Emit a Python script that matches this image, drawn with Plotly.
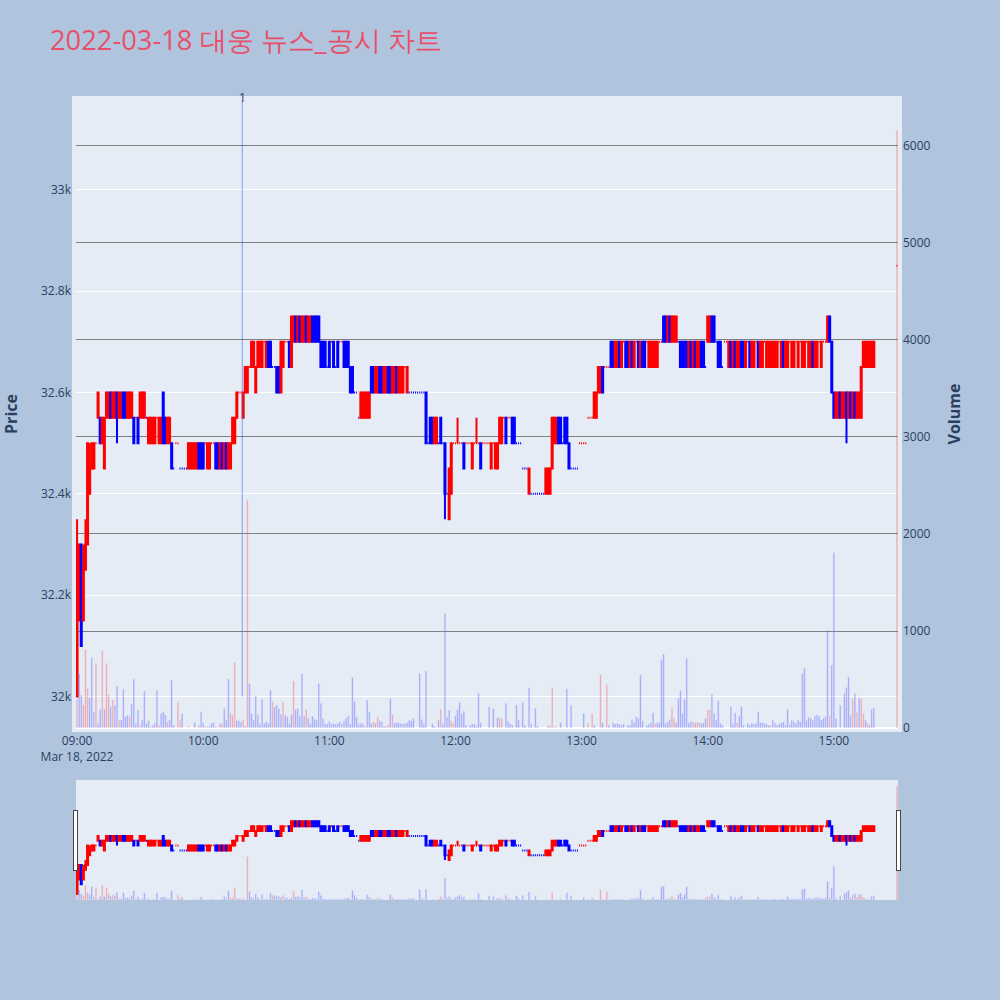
import pandas as pd
import plotly.graph_objects as go
from plotly.subplots import make_subplots

# ---- data (1-minute candles, 2022-03-18) ----
trade_date = "2022-03-18"
minute_offsets = list(range(380)) + [390]   # minutes after 09:00

opens = [
    32000,32150,32300,32150,32250,32300,32400,32450,32450,32500,
    32550,32550,32500,32450,32550,32550,32600,32550,32550,32600,
    32550,32550,32600,32600,32550,32550,32550,32550,32550,32550,
    32550,32550,32550,32550,32500,32500,32500,32500,32550,32500,
    32500,32600,32550,32500,32500,32500,32450,32500,32500,32450,
    32450,32450,32450,32450,32450,32450,32450,32450,32500,32500,
    32500,32500,32450,32450,32500,32500,32500,32500,32450,32500,
    32450,32500,32450,32450,32500,32500,32550,32600,32600,32550,
    32600,32600,32650,32650,32650,32600,32650,32650,32650,32700,
    32650,32700,32700,32650,32650,32650,32650,32600,32650,32700,
    32700,32700,32650,32700,32750,32700,32750,32700,32700,32750,
    32700,32700,32750,32750,32750,32750,32700,32700,32700,32650,
    32700,32700,32700,32650,32700,32700,32700,32700,32700,32700,
    32650,32650,32600,32600,32550,32550,32550,32550,32550,32550,
    32650,32650,32600,32600,32650,32650,32600,32600,32650,32650,
    32600,32600,32650,32600,32600,32600,32650,32600,32600,32600,
    32600,32600,32600,32600,32600,32600,32600,32500,32550,32550,
    32500,32500,32500,32550,32500,32500,32400,32350,32400,32500,
    32500,32500,32500,32500,32500,32500,32500,32500,32450,32500,
    32500,32500,32500,32500,32500,32500,32500,32450,32500,32450,
    32450,32500,32500,32550,32550,32550,32550,32550,32550,32500,
    32500,32500,32450,32450,32450,32400,32400,32400,32400,32400,
    32400,32400,32400,32400,32400,32400,32450,32500,32500,32550,
    32550,32500,32550,32550,32500,32450,32450,32450,32450,32500,
    32500,32500,32500,32550,32550,32550,32550,32550,32600,32600,
    32650,32650,32650,32650,32700,32700,32650,32650,32700,32650,
    32700,32700,32700,32650,32700,32650,32700,32700,32650,32700,
    32700,32700,32650,32650,32650,32650,32650,32700,32700,32750,
    32750,32700,32750,32700,32700,32700,32700,32700,32700,32700,
    32700,32650,32700,32650,32700,32650,32650,32700,32700,32650,
    32700,32700,32750,32750,32700,32700,32700,32650,32700,32700,
    32650,32700,32650,32700,32650,32650,32700,32700,32650,32700,
    32700,32650,32650,32700,32700,32650,32650,32700,32650,32650,
    32650,32650,32650,32650,32700,32650,32700,32650,32650,32700,
    32650,32650,32700,32650,32700,32650,32650,32700,32650,32650,
    32700,32650,32650,32700,32650,32700,32700,32700,32750,32700,
    32600,32550,32550,32600,32550,32550,32600,32550,32600,32550,
    32600,32550,32550,32550,32650,32650,32650,32650,32650,32650,
    32850,
]
highs = [
    32350,32300,32300,32300,32350,32500,32500,32500,32500,32500,
    32600,32550,32550,32550,32600,32600,32600,32600,32600,32600,
    32600,32600,32600,32600,32600,32600,32600,32550,32550,32550,
    32600,32600,32600,32550,32550,32550,32550,32550,32550,32550,
    32550,32600,32550,32550,32550,32500,32450,32500,32500,32450,
    32450,32450,32450,32500,32500,32500,32500,32500,32500,32500,
    32500,32500,32500,32500,32500,32500,32500,32500,32500,32500,
    32500,32500,32500,32500,32550,32550,32600,32600,32600,32600,
    32650,32650,32650,32700,32700,32650,32700,32700,32700,32700,
    32700,32700,32700,32650,32650,32650,32650,32700,32700,32700,
    32700,32700,32750,32750,32750,32750,32750,32750,32750,32750,
    32750,32750,32750,32750,32750,32750,32700,32700,32700,32650,
    32700,32700,32700,32650,32700,32700,32700,32700,32700,32700,
    32650,32650,32600,32600,32550,32600,32600,32600,32600,32600,
    32650,32650,32650,32650,32650,32650,32650,32650,32650,32650,
    32650,32650,32650,32650,32650,32650,32650,32650,32600,32600,
    32600,32600,32600,32600,32600,32600,32600,32500,32550,32550,
    32550,32550,32500,32550,32500,32500,32400,32450,32500,32500,
    32500,32550,32500,32500,32500,32500,32500,32500,32500,32500,
    32550,32500,32500,32500,32500,32500,32500,32500,32500,32500,
    32500,32550,32550,32550,32550,32550,32550,32550,32550,32500,
    32500,32500,32450,32450,32450,32450,32400,32400,32400,32400,
    32400,32400,32400,32450,32450,32450,32550,32550,32550,32550,
    32550,32500,32550,32550,32500,32450,32450,32450,32450,32500,
    32500,32500,32500,32550,32550,32550,32600,32600,32650,32650,
    32650,32650,32650,32650,32700,32700,32700,32700,32700,32700,
    32700,32700,32700,32700,32700,32700,32700,32700,32700,32700,
    32700,32700,32700,32700,32700,32700,32700,32700,32700,32750,
    32750,32750,32750,32750,32750,32750,32700,32700,32700,32700,
    32700,32700,32700,32700,32700,32700,32700,32700,32700,32650,
    32750,32750,32750,32750,32700,32700,32700,32650,32700,32700,
    32700,32700,32700,32700,32700,32700,32700,32700,32700,32700,
    32700,32700,32700,32700,32700,32700,32700,32700,32700,32700,
    32700,32700,32700,32700,32700,32700,32700,32700,32700,32700,
    32700,32700,32700,32700,32700,32700,32700,32700,32700,32700,
    32700,32700,32700,32700,32700,32700,32700,32750,32750,32700,
    32600,32600,32600,32600,32600,32600,32600,32600,32600,32600,
    32600,32600,32600,32650,32700,32700,32700,32700,32700,32700,
    32850,
]
lows = [
    32000,32150,32100,32150,32250,32300,32400,32450,32450,32500,
    32550,32500,32500,32450,32550,32550,32550,32550,32550,32500,
    32550,32550,32550,32550,32550,32550,32550,32500,32550,32500,
    32550,32550,32550,32550,32500,32500,32500,32500,32550,32500,
    32500,32500,32500,32500,32500,32450,32450,32500,32500,32450,
    32450,32450,32450,32450,32450,32450,32450,32450,32450,32450,
    32450,32500,32450,32450,32500,32500,32450,32450,32450,32450,
    32450,32450,32450,32450,32500,32500,32550,32600,32600,32550,
    32600,32600,32650,32650,32650,32600,32650,32650,32650,32700,
    32650,32650,32650,32650,32650,32600,32600,32600,32650,32700,
    32700,32650,32650,32700,32700,32700,32700,32700,32700,32700,
    32700,32700,32700,32700,32700,32700,32650,32650,32650,32650,
    32650,32700,32650,32650,32650,32700,32700,32650,32650,32650,
    32600,32600,32600,32600,32550,32550,32550,32550,32550,32550,
    32600,32600,32600,32600,32600,32600,32600,32600,32600,32600,
    32600,32600,32600,32600,32600,32600,32650,32600,32600,32600,
    32600,32600,32600,32600,32600,32600,32500,32500,32500,32500,
    32500,32500,32500,32500,32500,32350,32400,32350,32400,32500,
    32500,32500,32500,32500,32450,32500,32500,32500,32450,32500,
    32500,32500,32450,32500,32500,32500,32500,32450,32500,32450,
    32450,32500,32500,32550,32500,32550,32550,32500,32500,32500,
    32500,32500,32450,32450,32450,32400,32400,32400,32400,32400,
    32400,32400,32400,32400,32400,32400,32450,32500,32500,32500,
    32500,32500,32500,32500,32450,32450,32450,32450,32450,32500,
    32500,32500,32500,32550,32550,32550,32550,32550,32600,32600,
    32600,32650,32650,32650,32650,32650,32650,32650,32650,32650,
    32700,32650,32650,32650,32650,32650,32700,32650,32650,32650,
    32650,32700,32650,32650,32650,32650,32650,32700,32700,32700,
    32700,32700,32700,32700,32700,32700,32700,32650,32650,32650,
    32650,32650,32650,32650,32650,32650,32650,32650,32650,32650,
    32700,32700,32700,32700,32700,32650,32650,32650,32700,32700,
    32650,32650,32650,32650,32650,32650,32650,32650,32650,32700,
    32650,32650,32650,32700,32650,32650,32650,32700,32650,32650,
    32650,32650,32650,32650,32700,32650,32650,32650,32650,32700,
    32650,32650,32700,32650,32700,32650,32650,32700,32650,32650,
    32650,32650,32650,32700,32650,32700,32700,32700,32700,32600,
    32550,32550,32550,32550,32550,32550,32500,32550,32550,32550,
    32550,32550,32550,32550,32650,32650,32650,32650,32650,32650,
    32850,
]
closes = [
    32300,32300,32100,32250,32300,32500,32450,32500,32500,32500,
    32600,32500,32550,32550,32600,32600,32550,32600,32600,32550,
    32600,32600,32550,32550,32600,32600,32600,32500,32550,32500,
    32600,32600,32600,32550,32550,32550,32550,32550,32550,32550,
    32550,32500,32500,32550,32550,32450,32450,32500,32500,32450,
    32450,32450,32450,32500,32500,32500,32500,32500,32450,32450,
    32450,32500,32500,32500,32500,32500,32450,32450,32500,32450,
    32500,32450,32500,32500,32550,32550,32600,32600,32600,32600,
    32650,32650,32650,32700,32700,32650,32700,32700,32700,32700,
    32700,32650,32650,32650,32650,32600,32600,32700,32700,32700,
    32700,32650,32750,32750,32700,32750,32700,32750,32750,32700,
    32750,32750,32700,32700,32700,32700,32650,32650,32650,32650,
    32650,32700,32650,32650,32650,32700,32700,32650,32650,32650,
    32600,32600,32600,32600,32550,32600,32600,32600,32600,32600,
    32600,32600,32650,32650,32600,32600,32650,32650,32600,32600,
    32650,32650,32600,32650,32650,32650,32650,32650,32600,32600,
    32600,32600,32600,32600,32600,32600,32500,32500,32500,32500,
    32550,32550,32500,32500,32500,32400,32400,32450,32500,32500,
    32500,32500,32500,32500,32450,32500,32500,32500,32500,32500,
    32500,32500,32450,32500,32500,32500,32500,32500,32500,32500,
    32500,32550,32550,32550,32500,32550,32550,32500,32500,32500,
    32500,32500,32450,32450,32450,32450,32400,32400,32400,32400,
    32400,32400,32400,32450,32450,32450,32550,32550,32550,32500,
    32500,32500,32500,32500,32450,32450,32450,32450,32450,32500,
    32500,32500,32500,32550,32550,32550,32600,32600,32650,32650,
    32600,32650,32650,32650,32650,32650,32700,32700,32650,32700,
    32700,32650,32650,32700,32650,32700,32700,32650,32700,32650,
    32650,32700,32700,32700,32700,32700,32700,32700,32700,32700,
    32700,32750,32700,32750,32750,32750,32700,32650,32650,32650,
    32650,32700,32650,32700,32650,32700,32700,32650,32650,32650,
    32750,32750,32700,32700,32700,32650,32650,32650,32700,32700,
    32700,32650,32700,32650,32700,32700,32650,32650,32700,32700,
    32650,32700,32700,32700,32650,32700,32700,32700,32700,32700,
    32700,32700,32700,32700,32700,32700,32650,32700,32700,32700,
    32700,32700,32700,32700,32700,32700,32700,32700,32700,32700,
    32650,32700,32700,32700,32700,32700,32700,32750,32700,32600,
    32550,32600,32600,32550,32600,32600,32550,32600,32550,32600,
    32550,32600,32600,32650,32700,32700,32700,32700,32700,32700,
    32850,
]
volumes = [
    300,563,340,237,811,409,313,728,168,667,
    48,192,797,190,667,347,220,289,237,433,
    82,82,399,117,134,117,247,505,48,186,
    30,82,381,48,75,14,30,48,392,30,
    151,168,134,65,82,495,30,0,265,82,
    151,0,0,20,0,0,55,0,30,168,
    48,14,20,20,48,55,20,0,48,48,
    203,82,505,151,134,677,82,75,65,90,
    20,2347,460,151,82,330,134,48,299,48,
    65,48,392,271,220,237,203,144,271,134,
    117,48,134,485,192,203,124,563,124,192,
    100,48,124,90,82,460,254,100,48,41,
    69,41,48,41,48,65,41,75,100,124,
    41,522,271,117,48,48,48,20,289,168,
    48,65,48,117,75,65,20,20,41,306,
    141,48,55,55,48,41,48,55,82,75,
    100,0,0,563,90,48,588,0,0,48,
    20,0,82,196,48,1182,117,186,75,48,
    130,192,265,151,175,30,0,30,41,41,
    20,357,55,0,0,0,220,0,203,0,
    106,100,100,0,254,75,48,30,0,237,
    82,0,261,30,0,416,41,0,203,20,
    0,0,0,0,30,20,419,14,14,0,
    58,0,0,405,0,237,0,0,0,0,
    0,151,0,55,0,151,30,0,0,550,
    55,0,450,30,0,55,41,48,41,30,
    41,0,30,30,89,58,117,100,546,75,
    0,30,41,55,158,48,55,55,701,763,
    48,65,89,213,100,55,306,385,151,296,
    718,55,65,65,55,55,62,48,55,100,
    186,192,347,151,82,282,48,30,0,0,
    0,220,48,158,58,124,220,30,0,48,
    30,48,41,48,168,55,55,48,41,30,
    30,82,48,30,41,55,65,30,192,41,
    82,65,48,82,65,563,615,82,110,100,
    82,124,134,124,82,100,117,1010,130,650,
    1808,100,0,237,0,357,419,529,134,306,
    357,168,313,306,151,82,55,30,192,210,
    6166,
]
# minutes whose volume bar is drawn red (rising); all others blue
vol_up_minutes = [0,3,4,5,9,12,14,15,17,20,25,30,35,39,43,48,49,53,58,62,66,69,
                  73,74,75,79,81,93,98,103,109,137,141,143,148,150,173,178,179,
                  201,202,224,226,227,228,243,245,249,252,275,283,284,293,295,296,
                  300,301,314,330,358,369,371,373,374,376,390]

news_times = ["2022-03-18 10:18:35"]
news_labels = ["1"]

title_text = "2022-03-18 대웅 뉴스_공시 차트"

# ---- build ----
base = pd.Timestamp(trade_date + " 09:00")
times = [base + pd.Timedelta(minutes=m) for m in minute_offsets]
up_set = set(vol_up_minutes)
vol_colors = ["red" if m in up_set else "blue" for m in minute_offsets]

price_range = [31938, 33177]
x_range = [base - pd.Timedelta(seconds=30), base + pd.Timedelta(minutes=390, seconds=30)]

fig = make_subplots(specs=[[{"secondary_y": True}]])
fig.add_trace(go.Candlestick(
    x=times, open=opens, high=highs, low=lows, close=closes,
    increasing=dict(line=dict(color="red", width=2), fillcolor="red"),
    decreasing=dict(line=dict(color="blue", width=2), fillcolor="blue"),
    name="Price", showlegend=False), secondary_y=False)
fig.add_trace(go.Bar(
    x=times, y=volumes, marker=dict(color=vol_colors),
    opacity=0.3, name="Volume", showlegend=False), secondary_y=True)

for t, lab in zip(news_times, news_labels):
    fig.add_shape(type="line", xref="x", yref="y", x0=t, x1=t,
                  y0=min(lows), y1=price_range[1],
                  line=dict(color="royalblue", width=1), opacity=0.6)
    fig.add_annotation(x=t, xref="x", y=1, yref="paper", text=lab,
                       showarrow=False, yanchor="middle", yshift=3,
                       font=dict(size=12, color="#2a3f5f"))

fig.update_layout(
    width=1000, height=1000,
    paper_bgcolor="#B0C4DE", plot_bgcolor="#E5ECF6",
    title=dict(text=title_text, x=0.05, y=0.96, yanchor="middle",
               font=dict(size=27.3, color="#E8506A")),
    margin=dict(l=76, r=102, t=100, b=100, pad=4),
    showlegend=False,
    bargap=0.2,
)
fig.update_xaxes(showgrid=False, range=x_range, automargin=False, domain=[0, 1],
                 rangeslider=dict(visible=True, thickness=0.15,
                                  bgcolor="#E5ECF6", range=x_range))
fig.update_yaxes(title=dict(text="Price", font=dict(size=16, weight="bold"), standoff=23),
                 range=price_range, automargin=False, secondary_y=False)
fig.update_yaxes(title=dict(text="Volume", font=dict(size=16, weight="bold"), standoff=23),
                 range=[0, 6474], showgrid=True, gridcolor="gray",
                 automargin=False, secondary_y=True)

fig.write_html("out.html", config={"displayModeBar": False},
               post_script="document.body.style.margin='0';document.body.style.overflow='hidden';")
